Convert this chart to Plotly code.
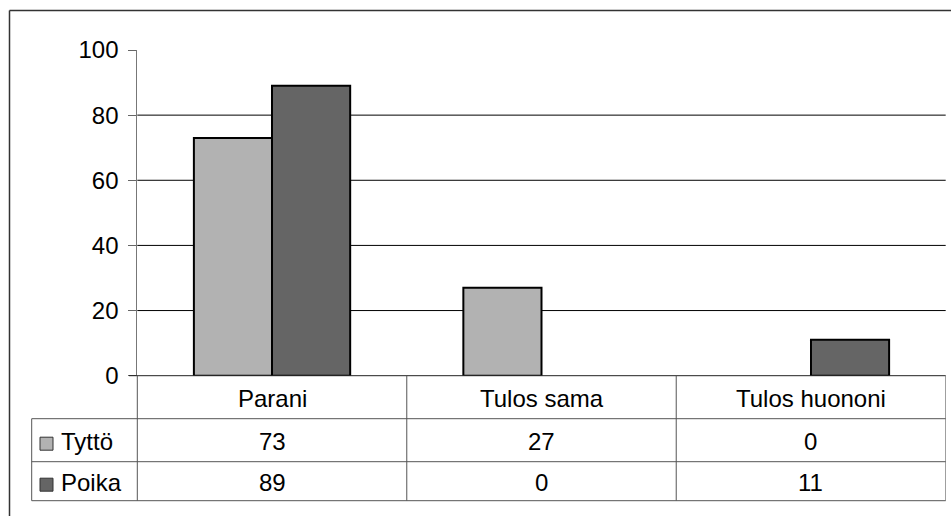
import plotly.graph_objects as go

# Data
categories = ["Parani", "Tulos sama", "Tulos huononi"]
series_names = ["Tyttö", "Poika"]
tytto = [73, 27, 0]
poika = [89, 0, 11]
y_ticks = [0, 20, 40, 60, 80, 100]

colors = ["#b2b2b2", "#656565"]
series_values = [tytto, poika]

W, H = 951, 516
FONT = "Liberation Sans, Arial, sans-serif"
FS = 24

# Layout geometry (pixels)
plot_left, plot_right = 137.3, 945.7
plot_top, plot_bottom = 50.0, 375.7
table_left = 31.7
row_edges = [375.7, 418.7, 461.7, 500.7]


def px(x):
    return x / W


def py(y):
    return 1 - y / H


fig = go.Figure()
for name, vals, col in zip(series_names, series_values, colors):
    fig.add_trace(go.Bar(
        x=categories, y=vals, name=name,
        marker=dict(color=col,
                    line=dict(color="#000000", width=[2 if v > 0 else 0 for v in vals])),
        showlegend=False, hoverinfo="x+y+name",
    ))

shapes = []
annotations = []

# Horizontal gridlines (not at the top tick)
for t in y_ticks[1:-1]:
    shapes.append(dict(type="line", xref="paper", yref="y",
                       x0=px(plot_left), x1=px(plot_right), y0=t, y1=t,
                       line=dict(color="#000000", width=1), layer="below"))

line_col = "#555555"
# Outer chart border (top and left sides)
shapes.append(dict(type="line", xref="paper", yref="paper",
                   x0=px(9.5), x1=1.0, y0=py(10.5), y1=py(10.5),
                   line=dict(color="#333333", width=1.5)))
shapes.append(dict(type="line", xref="paper", yref="paper",
                   x0=px(9.5), x1=px(9.5), y0=py(10.5), y1=0,
                   line=dict(color="#333333", width=1.5)))

# Data table horizontal rules
shapes.append(dict(type="line", xref="paper", yref="paper",
                   x0=px(129), x1=px(plot_right), y0=py(row_edges[0]), y1=py(row_edges[0]),
                   line=dict(color="#222222", width=1)))
for r in row_edges[1:]:
    shapes.append(dict(type="line", xref="paper", yref="paper",
                       x0=px(table_left), x1=px(plot_right), y0=py(r), y1=py(r),
                       line=dict(color=line_col, width=1)))
# Data table vertical rules
shapes.append(dict(type="line", xref="paper", yref="paper",
                   x0=px(table_left), x1=px(table_left), y0=py(row_edges[1]), y1=py(row_edges[3]),
                   line=dict(color=line_col, width=1)))
shapes.append(dict(type="line", xref="paper", yref="paper",
                   x0=px(plot_left), x1=px(plot_left), y0=py(row_edges[0]), y1=py(row_edges[3]),
                   line=dict(color=line_col, width=1)))
for k in range(len(categories)):
    xb = k + 0.5
    shapes.append(dict(type="line", xref="x", yref="paper",
                       x0=xb, x1=xb, y0=py(row_edges[0]), y1=py(row_edges[3]),
                       line=dict(color=line_col, width=1)))

# Category labels
for k, c in enumerate(categories):
    annotations.append(dict(x=k, y=py((row_edges[0] + row_edges[1]) / 2 + 1),
                            xref="x", yref="paper", text=c, showarrow=False,
                            font=dict(family=FONT, size=FS, color="#000000"),
                            xanchor="center", yanchor="middle"))

# Table rows: legend key, series name and values
for i, (name, vals, col) in enumerate(zip(series_names, series_values, colors)):
    top, bot = row_edges[i + 1], row_edges[i + 2]
    mid = (top + bot) / 2
    shapes.append(dict(type="rect", xref="paper", yref="paper",
                       x0=px(40), x1=px(53), y0=py(mid - 3), y1=py(mid + 10),
                       fillcolor=col, line=dict(color="#333333", width=1)))
    annotations.append(dict(x=px(59), y=py(mid + 1), xref="paper", yref="paper",
                            text=name, showarrow=False, xanchor="left", yanchor="middle",
                            font=dict(family=FONT, size=FS, color="#000000")))
    for k, v in enumerate(vals):
        annotations.append(dict(x=k, y=py(mid + 1), xref="x", yref="paper",
                                text=str(v), showarrow=False,
                                xanchor="center", yanchor="middle",
                                font=dict(family=FONT, size=FS, color="#000000")))

fig.update_layout(
    template="none",
    width=W, height=H,
    margin=dict(l=0, r=0, t=0, b=0, pad=0, autoexpand=False),
    paper_bgcolor="#ffffff", plot_bgcolor="#ffffff",
    barmode="group", bargap=0.42, bargroupgap=0,
    showlegend=False,
    xaxis=dict(domain=[px(plot_left), px(plot_right)], range=[-0.5, len(categories) - 0.5],
               showticklabels=False, showgrid=False, zeroline=False, showline=False,
               ticks="", fixedrange=True, automargin=False),
    yaxis=dict(domain=[py(plot_bottom), py(plot_top)], range=[0, 100],
               tickvals=y_ticks, ticks="outside", ticklen=8, tickcolor="#666666",
               showline=True, linecolor="#777777", linewidth=1,
               showgrid=False, zeroline=False, ticklabelstandoff=5,
               tickfont=dict(family=FONT, size=FS, color="#000000"),
               fixedrange=True, automargin=False),
    shapes=shapes, annotations=annotations,
)

fig.write_html("out.html")
